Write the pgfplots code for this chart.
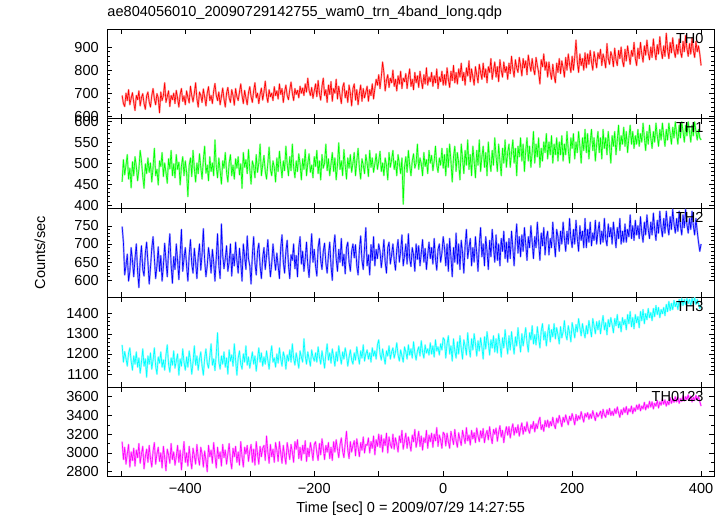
\documentclass[border=0pt]{standalone}
\usepackage{fontspec}
\setmainfont{Liberation Sans}
\usepackage{pgfplots}
\usepackage{pgfplotstable}
\pgfplotsset{compat=1.18}
\usepgfplotslibrary{groupplots}
\definecolor{qred}{RGB}{255,0,0}
\definecolor{qgreen}{RGB}{0,255,0}
\definecolor{qblue}{RGB}{0,0,255}
\definecolor{qcyan}{RGB}{0,255,255}
\definecolor{qmag}{RGB}{255,0,255}

\pgfplotstableread{
x a b c d e
-498 690 455 748 1245 3120
-496 655 508 705 1160 2930
-494 642 472 615 1212 3060
-492 700 495 640 1178 2880
-490 668 520 672 1140 2990
-488 715 462 598 1205 3090
-486 650 488 625 1230 2850
-484 678 441 690 1165 3010
-482 702 503 655 1120 2920
-480 660 470 610 1190 3050
-478 625 515 660 1150 2860
-476 690 492 700 1210 3030
-474 672 458 625 1135 2950
-472 710 485 580 1180 3100
-470 645 530 655 1105 2890
-468 680 505 695 1160 2990
-466 698 468 630 1225 3070
-464 655 440 612 1140 2830
-462 630 498 675 1175 2960
-460 688 475 705 1085 3040
-458 705 512 650 1190 2900
-456 662 478 590 1150 3080
-454 640 500 635 1205 2940
-452 690 455 688 1125 2850
-450 720 490 720 1170 3020
-448 675 535 662 1230 3110
-446 650 470 605 1140 2880
-444 698 485 640 1100 2990
-442 680 448 692 1185 3060
-440 615 505 625 1155 2910
-438 705 492 668 1210 3000
-436 668 525 598 1135 2840
-434 690 468 640 1170 3070
-432 745 500 702 1120 2950
-430 660 478 655 1195 2810
-428 685 452 610 1245 3040
-426 710 510 680 1150 2980
-424 642 486 728 1110 2890
-422 690 530 642 1180 3100
-420 672 470 592 1145 2930
-418 700 498 665 1215 3010
-416 655 465 630 1130 2870
-414 712 520 700 1165 2960
-412 678 485 655 1200 3080
-410 640 502 602 1095 2900
-408 695 448 672 1175 3030
-406 720 493 740 1140 2820
-404 665 515 625 1225 2980
-402 688 470 660 1160 3120
-400 650 505 690 1120 2900
-398 710 478 640 1185 3000
-396 682 420 598 1135 2860
-394 658 495 670 1215 3070
-392 730 512 712 1170 2930
-390 690 468 645 1100 2830
-388 662 530 620 1160 3050
-386 700 487 688 1240 2970
-384 745 455 650 1145 2880
-382 675 500 605 1190 3090
-380 640 475 665 1120 2950
-378 705 522 700 1175 2870
-376 690 490 628 1210 3060
-374 660 462 672 1140 2990
-372 718 508 742 1095 2850
-370 684 540 655 1180 3020
-368 645 476 610 1225 2920
-366 700 495 640 1155 2800
-364 728 458 690 1130 3080
-362 668 515 662 1190 2960
-360 690 480 620 1250 3030
-358 655 500 685 1145 2890
-356 710 470 650 1175 3110
-354 742 555 598 1118 2970
-352 690 492 662 1200 2840
-350 668 465 728 1305 3060
-348 705 512 640 1160 2940
-346 650 482 605 1125 3010
-344 685 450 755 1190 2860
-342 722 505 670 1150 3090
-340 675 488 632 1210 2950
-338 640 525 660 1135 3030
-336 700 478 695 1180 2880
-334 725 455 625 1100 2990
-332 680 500 650 1220 3100
-330 660 520 700 1165 2920
-328 715 470 612 1195 2830
-326 690 495 672 1140 3050
-324 648 462 640 1250 2960
-322 720 510 705 1170 3070
-320 685 488 655 1095 2900
-318 668 515 620 1180 3010
-316 705 472 688 1215 2870
-314 740 498 650 1150 3120
-312 690 440 598 1125 2960
-310 655 525 700 1200 2850
-308 712 490 665 1160 3060
-306 680 508 630 1240 2990
-304 650 475 722 1145 3080
-302 702 532 660 1185 2910
-300 728 485 640 1130 3020
-298 685 450 590 1170 3090
-296 660 505 670 1210 2900
-294 710 492 720 1150 3040
-292 745 465 648 1190 2870
-290 680 520 615 1115 3120
-288 700 478 680 1175 2990
-286 655 500 702 1230 2880
-284 695 545 640 1160 3070
-282 722 470 605 1205 2960
-280 670 495 662 1140 3050
-278 705 518 690 1185 3080
-276 752 480 630 1150 2920
-274 690 462 668 1215 3180
-272 660 500 712 1170 3010
-270 715 538 655 1125 2890
-268 685 485 610 1195 3090
-266 700 470 645 1240 2960
-264 668 505 700 1160 3040
-262 728 490 660 1180 2900
-260 690 455 628 1135 3110
-258 710 512 675 1200 3030
-256 675 480 640 1155 2910
-254 740 528 605 1230 3120
-252 695 495 690 1175 3000
-250 720 465 725 1140 2890
-248 660 505 650 1210 3080
-246 705 482 620 1185 2970
-244 735 540 680 1125 2880
-242 690 498 710 1195 3110
-240 672 470 642 1165 3020
-238 715 515 605 1220 2930
-236 748 482 670 1160 3090
-234 700 545 655 1250 3010
-232 668 490 700 1180 2900
-230 720 465 632 1145 3120
-228 695 505 668 1205 3040
-226 712 480 610 1170 3140
-224 680 522 690 1130 2940
-222 730 498 720 1215 3060
-220 700 460 645 1185 2920
-218 722 510 680 1160 3080
-216 690 485 625 1275 2990
-214 740 532 660 1190 3130
-212 705 470 705 1150 2910
-210 765 500 640 1210 3050
-208 712 522 608 1175 2960
-206 690 478 670 1140 3110
-204 725 495 728 1220 3030
-202 678 465 650 1185 2920
-200 710 515 685 1165 3090
-198 740 492 640 1205 3120
-196 685 530 612 1160 3000
-194 755 475 690 1235 2920
-192 700 505 715 1185 3100
-190 670 460 655 1150 2980
-188 730 520 630 1215 3150
-186 765 488 680 1175 3050
-184 690 500 702 1130 2930
-182 715 545 648 1200 3080
-180 660 482 620 1250 3010
-178 735 510 670 1170 3110
-176 695 470 705 1205 2940
-174 750 498 640 1155 3060
-172 665 525 600 1225 2920
-170 720 480 690 1185 3120
-168 700 512 725 1140 3010
-166 760 460 660 1210 3140
-164 675 495 625 1165 3040
-162 730 548 685 1240 2950
-160 690 485 650 1190 3090
-158 655 505 715 1150 3160
-156 725 470 640 1210 3020
-154 745 532 672 1175 2950
-152 680 495 618 1230 3100
-150 710 462 690 1195 3230
-148 660 512 705 1140 3030
-146 735 488 650 1185 2940
-144 700 520 625 1220 3120
-142 645 478 680 1170 3010
-140 720 500 700 1150 3080
-138 740 525 662 1205 3130
-136 670 470 698 1170 2970
-134 715 505 640 1235 3150
-132 650 535 615 1190 3060
-130 700 488 685 1150 2960
-128 735 462 722 1215 3110
-126 665 510 655 1180 3030
-124 720 495 630 1245 3170
-122 680 475 690 1165 3000
-120 705 520 745 1200 3090
-118 730 500 640 1220 3080
-116 665 468 670 1175 3160
-114 715 530 615 1205 3000
-112 690 490 698 1160 3120
-110 740 512 655 1230 3050
-108 675 478 720 1190 3180
-106 720 498 640 1215 2980
-104 760 522 685 1175 3140
-102 735 485 660 1245 3070
-100 780 505 700 1270 3200
-98 720 528 680 1200 3060
-96 770 480 635 1170 3190
-94 835 500 668 1225 3010
-92 790 470 712 1185 3150
-90 710 512 650 1150 3080
-88 755 495 620 1215 3210
-86 780 460 690 1190 3000
-84 725 525 705 1240 3170
-82 765 490 645 1175 3090
-80 745 508 670 1210 3050
-78 800 530 700 1230 3200
-76 730 485 655 1180 3040
-74 760 505 628 1210 3160
-72 710 470 685 1255 3090
-70 775 520 712 1195 3010
-68 740 498 650 1165 3180
-66 795 475 680 1220 3110
-64 720 512 725 1190 3240
-62 765 402 640 1160 3040
-60 750 490 668 1235 3130
-58 785 515 700 1210 3210
-56 720 478 645 1175 3050
-54 770 530 728 1245 3170
-52 805 495 660 1195 3100
-50 730 470 638 1225 3020
-48 760 505 690 1180 3190
-46 715 522 670 1260 3120
-44 790 488 625 1205 3250
-42 745 500 700 1170 3060
-40 775 545 658 1215 3140
-38 725 485 695 1235 3230
-36 795 512 640 1190 3070
-34 755 498 675 1265 3180
-32 720 470 712 1210 3030
-30 780 525 650 1180 3160
-28 740 492 688 1245 3110
-26 810 508 630 1205 3240
-24 735 475 670 1225 3050
-22 770 530 705 1195 3190
-20 750 500 660 1255 3120
-18 790 518 690 1200 3210
-16 730 482 645 1240 3060
-14 775 505 715 1185 3200
-12 745 540 660 1270 3130
-10 805 495 628 1215 3270
-8 720 478 685 1235 3070
-6 770 512 700 1195 3190
-4 750 495 650 1250 3140
-2 795 535 675 1220 3050
0 735 488 720 1280 3220
2 780 520 690 1270 3200
4 735 470 640 1180 3075
6 810 535 700 1250 3210
8 760 490 625 1290 3120
10 725 545 715 1200 3050
12 795 505 665 1240 3230
14 755 455 610 1165 3160
16 820 515 690 1275 3090
18 745 540 650 1215 3250
20 790 480 730 1180 3130
22 740 525 645 1260 3060
24 805 500 700 1200 3215
26 770 460 630 1290 3140
28 830 545 710 1225 3080
30 755 510 675 1175 3240
32 790 475 620 1270 3170
34 735 530 695 1240 3100
36 810 495 740 1195 3270
38 775 555 660 1305 3130
40 840 485 690 1230 3190
42 750 520 715 1185 3085
44 805 470 640 1275 3240
46 770 540 690 1220 3150
48 735 505 650 1300 3215
50 815 465 720 1250 3110
52 780 530 675 1190 3265
54 745 495 625 1265 3180
56 825 555 700 1215 3120
58 790 480 745 1280 3235
60 760 515 665 1235 3160
62 830 540 700 1175 3260
64 770 490 640 1285 3110
66 805 525 720 1225 3195
68 745 470 680 1310 3240
70 815 550 630 1255 3140
72 790 505 710 1195 3280
74 850 480 665 1270 3175
76 760 530 740 1230 3100
78 800 495 690 1290 3250
80 835 560 650 1210 3200
82 770 515 725 1275 3265
84 815 480 655 1205 3125
86 750 545 700 1300 3220
88 845 505 640 1250 3290
90 800 470 715 1185 3170
92 770 535 680 1280 3240
94 835 500 735 1230 3110
96 790 555 660 1320 3215
98 815 490 705 1255 3280
100 760 525 650 1200 3190
102 830 545 715 1290 3280
104 785 490 660 1220 3160
106 860 525 735 1310 3250
108 805 555 690 1250 3310
110 770 500 640 1200 3190
112 845 535 710 1285 3270
114 810 470 755 1240 3215
116 790 540 675 1330 3300
118 855 515 720 1265 3180
120 820 560 665 1210 3260
122 775 505 725 1300 3320
124 850 545 680 1240 3200
126 810 480 745 1285 3280
128 840 530 700 1330 3230
130 780 560 655 1255 3330
132 865 505 720 1210 3250
134 825 540 690 1305 3210
136 795 490 750 1270 3300
138 850 525 705 1340 3260
140 805 575 660 1250 3335
142 780 500 720 1295 3225
144 855 545 690 1245 3310
146 820 515 760 1335 3260
148 790 560 705 1280 3340
150 740 490 655 1230 3380
152 845 535 730 1315 3250
154 815 505 695 1350 3300
156 870 550 745 1270 3230
158 800 525 670 1310 3345
160 835 570 715 1240 3280
162 770 510 735 1300 3350
164 835 550 670 1345 3270
166 790 520 715 1260 3335
168 760 565 690 1320 3290
170 825 500 760 1285 3380
172 775 545 705 1350 3300
174 745 520 665 1275 3260
176 830 560 740 1330 3370
178 790 505 720 1295 3320
180 850 550 680 1250 3400
182 785 520 735 1335 3340
184 840 565 700 1280 3280
186 810 505 760 1310 3380
188 770 545 715 1365 3330
190 855 520 680 1295 3405
192 800 575 735 1270 3350
194 870 530 700 1340 3300
196 825 500 770 1305 3390
198 790 560 715 1260 3345
200 860 535 690 1355 3420
202 800 570 740 1320 3365
204 855 510 700 1280 3300
206 930 550 765 1345 3410
208 835 525 715 1310 3345
210 790 575 680 1375 3395
212 870 540 750 1330 3360
214 820 500 710 1290 3440
216 850 560 735 1350 3380
218 800 530 690 1310 3330
220 875 580 770 1280 3420
222 810 525 690 1340 3385
224 870 570 740 1300 3430
226 825 510 705 1365 3360
228 885 550 760 1325 3415
230 835 580 695 1285 3370
232 800 530 730 1375 3450
234 880 560 710 1340 3395
236 845 505 765 1300 3345
238 810 545 700 1360 3430
240 875 575 735 1320 3385
242 850 525 760 1365 3410
244 890 560 700 1300 3445
246 820 510 735 1350 3370
248 870 580 705 1390 3465
250 845 535 770 1320 3405
252 810 560 715 1355 3380
254 915 520 695 1295 3460
256 850 575 755 1370 3410
258 825 540 720 1335 3475
260 880 500 745 1380 3400
262 860 565 700 1345 3445
264 815 540 760 1305 3400
266 895 575 725 1375 3470
268 845 520 690 1340 3420
270 820 555 745 1395 3490
272 885 590 715 1330 3430
274 850 530 770 1360 3380
276 900 565 700 1310 3460
278 840 545 735 1380 3410
280 815 585 705 1345 3480
282 890 540 755 1370 3430
284 840 575 705 1320 3495
286 905 525 740 1395 3410
288 865 560 720 1350 3470
290 825 590 780 1410 3440
292 885 545 715 1335 3500
294 860 575 750 1380 3420
296 920 535 710 1325 3480
298 850 565 765 1395 3445
300 820 545 725 1355 3510
302 895 580 750 1385 3465
304 850 540 715 1330 3520
306 920 570 775 1410 3450
308 870 550 730 1365 3500
310 835 595 705 1420 3470
312 905 560 760 1350 3540
314 865 530 725 1400 3460
316 930 575 780 1370 3515
318 875 545 740 1425 3480
320 845 590 715 1380 3550
322 900 560 760 1405 3490
324 855 535 725 1365 3545
326 935 575 785 1425 3470
328 880 550 740 1385 3530
330 845 595 710 1440 3500
332 910 565 765 1395 3560
334 870 540 730 1430 3480
336 945 580 790 1380 3545
338 885 555 745 1420 3510
340 850 595 720 1400 3575
342 905 565 770 1430 3520
344 860 540 730 1390 3565
346 960 580 790 1445 3500
348 890 555 750 1410 3550
350 850 595 725 1460 3515
352 920 570 775 1415 3590
354 875 545 740 1450 3530
356 940 585 795 1420 3575
358 885 560 755 1465 3540
360 855 598 730 1435 3600
362 910 570 770 1455 3545
364 870 545 735 1420 3595
366 935 590 790 1470 3530
368 880 560 750 1435 3580
370 855 598 725 1475 3550
372 925 575 780 1440 3610
374 880 550 745 1470 3555
376 950 590 795 1445 3600
378 895 565 755 1475 3570
380 860 598 730 1450 3620
382 915 575 770 1470 3560
384 870 550 740 1440 3605
386 940 590 790 1475 3545
388 885 565 750 1450 3595
390 855 598 725 1478 3560
392 925 575 770 1445 3615
394 880 555 735 1470 3570
396 905 580 705 1450 3600
398 870 560 680 1425 3550
400 820 555 700 1440 3500
}\data

\begin{document}
\begin{tikzpicture}[font=\fontsize{14.5}{17}\selectfont]
\begin{groupplot}[
  group style={group size=1 by 5, vertical sep=0pt, xticklabels at=edge bottom},
  width=605pt, height=89.2pt, scale only axis,
  xmin=-521, xmax=420,
  xtick={-500,-400,...,400},
  xticklabels={,−400,,−200,,0,,200,,400},
  tick align=inside,
  major tick length=5pt, minor tick length=2.5pt,
  tick style={black, line width=0.5pt},
  axis line style={black, line width=0.7pt},
  ticklabel style={font=\fontsize{14.5}{17}\selectfont},
  /pgf/number format/assume math mode=true,
  /pgf/number format/1000 sep={},
  yticklabel style={xshift=-5pt},
  xticklabel style={yshift=-3pt},
  every axis plot/.append style={line join=round},
  clip=true,
]
\nextgroupplot[ymin=590, ymax=978, ytick={600,700,800,900}, minor y tick num=4,
  title={ae804056010\_20090729142755\_wam0\_trn\_4band\_long.qdp},
  title style={at={(axis description cs:0,1)}, anchor=south west, inner sep=0pt, yshift=3pt, font=\fontsize{14.5}{17}\selectfont}]
\addplot[qred!40, line width=1.8pt] table[x=x,y=a]{\data};
\addplot[qred, line width=0.6pt] table[x=x,y=a]{\data};
\node[anchor=north east, inner sep=0pt] at (rel axis cs:0.983,0.955) {TH0};

\nextgroupplot[ymin=393, ymax=606, ytick={400,450,...,600}, minor y tick num=4]
\addplot[qgreen!40, line width=1.8pt] table[x=x,y=b]{\data};
\addplot[qgreen, line width=0.6pt] table[x=x,y=b]{\data};
\node[anchor=north east, inner sep=0pt] at (rel axis cs:0.983,0.955) {TH1};

\nextgroupplot[ymin=553, ymax=799, ytick={600,650,700,750}, minor y tick num=4,
  ylabel={Counts/sec},
  ylabel style={at={(axis description cs:-0.111,0.5)}, anchor=center, rotate=0, font=\fontsize{14.5}{17}\selectfont}]
\addplot[qblue!40, line width=1.8pt] table[x=x,y=c]{\data};
\addplot[qblue, line width=0.6pt] table[x=x,y=c]{\data};
\node[anchor=north east, inner sep=0pt] at (rel axis cs:0.983,0.955) {TH2};

\nextgroupplot[ymin=1037, ymax=1480, ytick={1100,1200,1300,1400}, minor y tick num=4]
\addplot[qcyan!40, line width=1.8pt] table[x=x,y=d]{\data};
\addplot[qcyan, line width=0.6pt] table[x=x,y=d]{\data};
\node[anchor=north east, inner sep=0pt] at (rel axis cs:0.983,0.955) {TH3};

\nextgroupplot[ymin=2750, ymax=3705, ytick={2800,3000,...,3600}, minor y tick num=1,
  xlabel={Time [sec] 0 = 2009/07/29 14:27:55},
  xlabel style={font=\fontsize{14.5}{17}\selectfont, yshift=-2pt}]
\addplot[qmag!40, line width=1.8pt] table[x=x,y=e]{\data};
\addplot[qmag, line width=0.6pt] table[x=x,y=e]{\data};
\node[anchor=north east, inner sep=0pt] at (rel axis cs:0.983,0.955) {TH0123};
\end{groupplot}
\path (group c1r5.south west) ++(-107pt,-41pt) coordinate (bl);
\path (group c1r1.north east) ++(9pt,29pt) coordinate (tr);
\path (bl) rectangle (tr);
\end{tikzpicture}
\end{document}
